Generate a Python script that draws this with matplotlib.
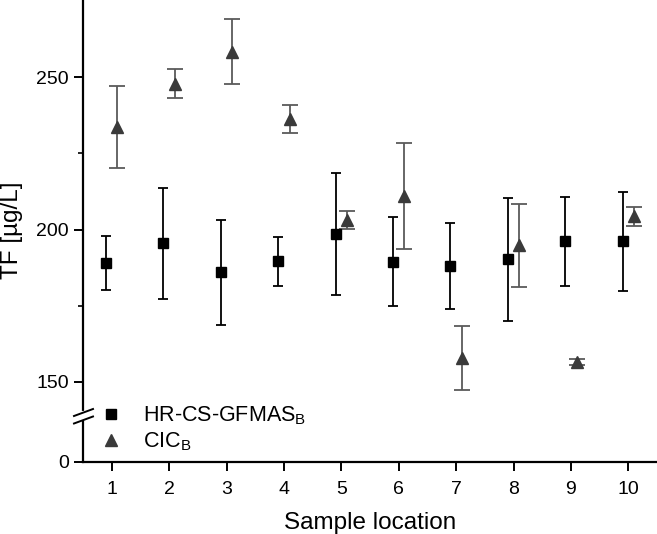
#!/usr/bin/env python3

"""TF per sample location, HR-CS-GFMAS vs CIC, broken y axis"""

import numpy as np
import matplotlib.pyplot as plt

plt.rcParams['font.family'] = ['Liberation Sans', 'DejaVu Sans']
plt.rcParams['mathtext.fontset'] = 'custom'
plt.rcParams['mathtext.rm'] = 'Liberation Sans'

# data
locations = [1, 2, 3, 4, 5, 6, 7, 8, 9, 10]
gfmas_mean = [189.0, 195.5, 186.0, 189.6, 198.5, 189.4, 188.0, 190.3, 196.1, 196.1]
gfmas_err = [8.8, 18.2, 17.2, 8.0, 20.0, 14.6, 14.2, 20.2, 14.7, 16.3]
cic_mean = [233.6, 247.9, 258.4, 236.3, 203.2, 211.0, 157.7, 194.8, 156.6, 204.3]
cic_err = [13.4, 4.6, 10.7, 4.7, 3.0, 17.5, 10.5, 13.6, 1.0, 3.0]

x = np.array(locations)
fig = plt.figure(figsize=(6.57, 5.34), dpi=100)
ax = fig.add_axes([83/657, 1 - 413/534, 1 - 83/657, 413/534])
ax0 = fig.add_axes([83/657, 1 - 462/534, 1 - 83/657, 44/534])

for a in (ax, ax0):
    a.errorbar(x - 0.1, gfmas_mean, yerr=gfmas_err, fmt='s', color='black',
               ms=7, elinewidth=1.3, capsize=3.5, capthick=1.3, zorder=3)
    a.errorbar(x + 0.1, cic_mean, yerr=cic_err, fmt='^', color='#3a3a3a',
               ecolor='#5a5a5a', ms=9, elinewidth=1.3, capsize=5.5,
               capthick=1.3, zorder=3)
    a.set_xlim(0.5, 10.5)
    a.spines['top'].set_visible(False)
    a.spines['right'].set_visible(False)
    a.spines['left'].set_linewidth(1.6)
    a.spines['bottom'].set_linewidth(1.6)
    a.tick_params(labelsize=14, width=1.4, length=6.5, direction='out')

ax.set_ylim(139.8, 275.3)
ax.set_yticks([150, 200, 250])
ax.set_yticks([175, 225], minor=True)
ax.tick_params(which='minor', length=3.5, width=1.2)
ax.spines['bottom'].set_visible(False)
ax.tick_params(axis='x', bottom=False, labelbottom=False)

ax0.set_ylim(0, 15)
ax0.set_yticks([0])
ax0.set_xticks(locations)
ax0.tick_params(axis='x', pad=7)
ax0.set_xlabel('Sample location', fontsize=17.5, labelpad=10)
fig.text(0.018, 1 - 230/534, 'TF [µg/L]', rotation=90, fontsize=17.5,
         ha='center', va='center')

# break marks on the y axis
fig.add_artist(plt.Line2D([83/657, 83/657], [1 - 418/534, 1 - 413/534],
                          color='white', lw=3))
for yy in (412.5, 420):
    fig.add_artist(plt.Line2D([74/657, 93/657],
                              [1 - (yy + 3.5)/534, 1 - (yy - 3.5)/534],
                              color='black', lw=1.4))

h1 = plt.Line2D([], [], ls='none', marker='s', color='black', ms=6.5)
h2 = plt.Line2D([], [], ls='none', marker='^', color='#3a3a3a', ms=8.5)
fig.legend([h1, h2], ['HR-CS-GFMAS$_\\mathregular{B}$', 'CIC$_\\mathregular{B}$'],
           loc='upper left', bbox_to_anchor=(89/657, 1 - 396/534),
           frameon=False, fontsize=15.5, handlelength=1.2, handletextpad=0.9,
           labelspacing=0.15, borderaxespad=0)

fig.savefig("out.png")
plt.close(fig)
